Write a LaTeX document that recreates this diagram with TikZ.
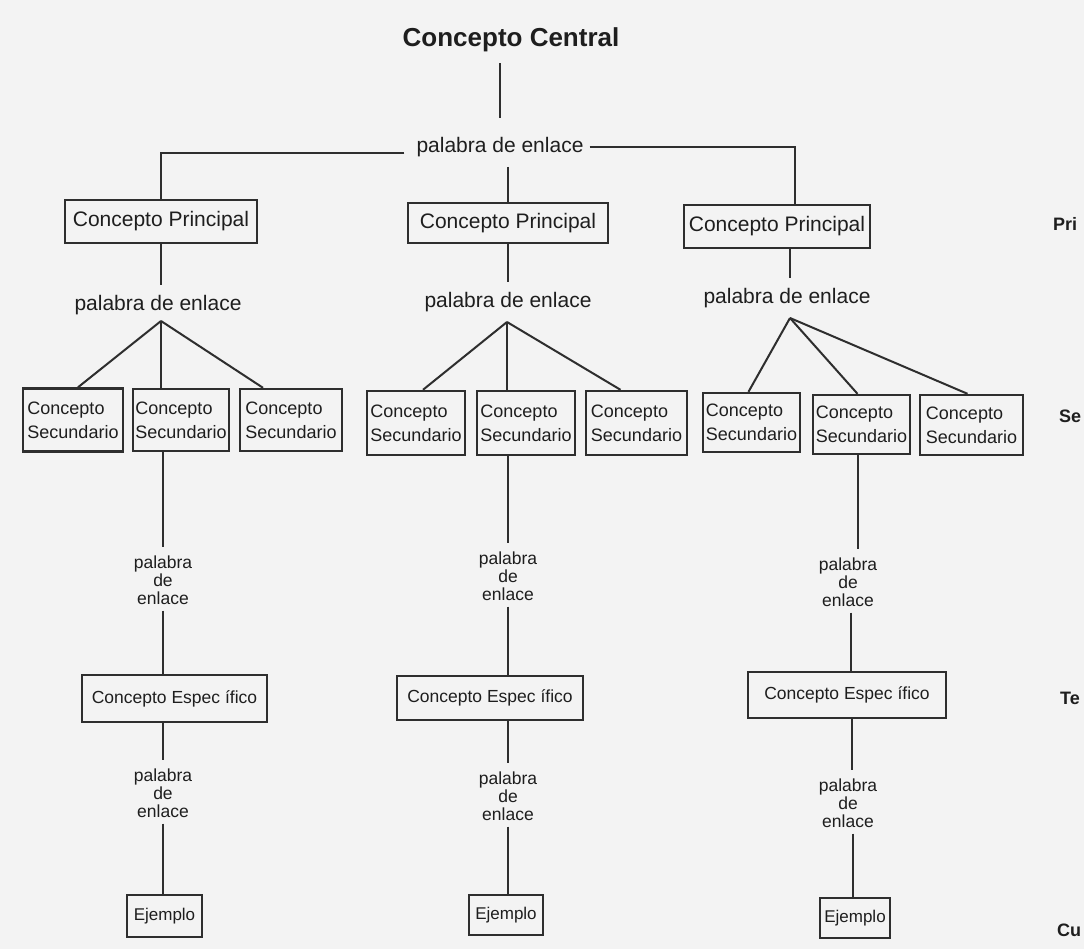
\documentclass[tikz,border=0pt]{standalone}
\usepackage{fontspec}
\setmainfont{Liberation Sans}
\definecolor{lc}{HTML}{2E2E2E}
\definecolor{bg}{HTML}{F3F3F3}
\definecolor{tc}{HTML}{1E1E1E}
\begin{document}
\begin{tikzpicture}[x=1pt,y=-1pt,
  ln/.style={draw=lc, line width=2pt},
  box/.style={draw=lc, line width=2.4pt, inner sep=0pt, text=tc},
  pbox/.style={box, font=\fontsize{21}{25}\selectfont},
  sbox/.style={box, align=left, font=\fontsize{18}{24}\selectfont},
  ebox/.style={box, font=\fontsize{17.5}{21}\selectfont},
  xbox/.style={box, font=\fontsize{17}{21}\selectfont},
  lwa/.style={inner sep=0pt, text=tc, font=\fontsize{21}{25}\selectfont},
  lwb/.style={inner sep=0pt, text=tc, align=center, font=\fontsize{17.5}{18}\selectfont},
  side/.style={inner sep=0pt, anchor=west, text=tc, font=\fontsize{18}{22}\selectfont\bfseries}
]
\fill[bg] (0,0) rectangle (1084,949);
\useasboundingbox (0,0) rectangle (1084,949);
\clip (0,0) rectangle (1084,949);

% top
\node[inner sep=0pt, text=tc, font=\fontsize{26}{30}\selectfont\bfseries] (cc) at (511,40) {Concepto Central};
\node[lwa] (pw0) at (500,147) {palabra de enlace};

% principal
\node[pbox, minimum width=192pt, minimum height=43pt] (P1) at (161,221.5) {Concepto Principal};
\node[pbox, minimum width=200pt, minimum height=40pt] (P2) at (508,223) {Concepto Principal};
\node[pbox, minimum width=186pt, minimum height=43pt] (P3) at (777,226.5) {Concepto Principal};

\draw[ln, shorten <=11pt, shorten >=19pt] (cc.south -| pw0.north) -- (pw0.north);
\draw[ln] ([shift={(-12pt,-6pt)}]pw0.west) -| (P1.north);
\draw[ln] ([xshift=6pt]pw0.east) -| ([xshift=18pt]P3.north);
\draw[ln, shorten <=10pt] (pw0.south -| P2.north) -- (P2.north);

% level 2 link words
\node[lwa] (pwA) at (158,305) {palabra de enlace};
\node[lwa] (pwB) at (508,302) {palabra de enlace};
\node[lwa] (pwC) at (787,298) {palabra de enlace};

\draw[ln, shorten >=10pt] (P1.south) -- (P1.south |- pwA.north);
\draw[ln, shorten >=10pt] (P2.south) -- (P2.south |- pwB.north);
\draw[ln, shorten >=10pt] ([xshift=13pt]P3.south) -- ([xshift=13pt]P3.south |- pwC.north);

\coordinate (aA) at (161,321);
\coordinate (aB) at (507,322);
\coordinate (aC) at (790,318);

% secondary boxes
\node[sbox, minimum width=100pt, minimum height=63pt] (SA1) at (73,420) {Concepto\\Secundario};
\node[sbox, minimum width=96pt, minimum height=62pt] (SA2) at (181,420) {Concepto\\Secundario};
\node[sbox, minimum width=102pt, minimum height=62pt] (SA3) at (291,420) {Concepto\\Secundario};

\node[sbox, minimum width=98pt, minimum height=64pt] (SB1) at (416,423) {Concepto\\Secundario};
\node[sbox, minimum width=98pt, minimum height=64pt] (SB2) at (526,423) {Concepto\\Secundario};
\node[sbox, minimum width=101pt, minimum height=64pt] (SB3) at (636.5,423) {Concepto\\Secundario};

\node[sbox, minimum width=97pt, minimum height=59pt] (SC1) at (751.5,422.5) {Concepto\\Secundario};
\node[sbox, minimum width=97pt, minimum height=59pt] (SC2) at (861.5,424.5) {Concepto\\Secundario};
\node[sbox, minimum width=103pt, minimum height=60pt] (SC3) at (971.5,425) {Concepto\\Secundario};

\draw[ln] (aA) -- ([xshift=5pt]SA1.north);
\draw[ln] (aA) -- (SA2.north -| aA);
\draw[ln] (aA) -- ([xshift=-28pt]SA3.north);
\draw[ln] (aB) -- ([xshift=7pt]SB1.north);
\draw[ln] (aB) -- (SB2.north -| aB);
\draw[ln] (aB) -- ([xshift=-16pt]SB3.north);
\draw[ln] (aC) -- ([xshift=-3pt]SC1.north);
\draw[ln] (aC) -- ([xshift=-4pt]SC2.north);
\draw[ln] (aC) -- ([xshift=-4pt]SC3.north);

% level 3
\node[lwb] (qA1) at (163,580) {palabra\\de\\enlace};
\node[lwb] (qB1) at (508,576) {palabra\\de\\enlace};
\node[lwb] (qC1) at (848,582) {palabra\\de\\enlace};

\node[ebox, minimum width=185pt, minimum height=47pt] (EA) at (174.5,698.5) {Concepto Espec ífico};
\node[ebox, minimum width=186pt, minimum height=44pt] (EB) at (490,698) {Concepto Espec ífico};
\node[ebox, minimum width=198pt, minimum height=46pt] (EC) at (847,695) {Concepto Espec ífico};

\node[lwb] (qA2) at (163,793) {palabra\\de\\enlace};
\node[lwb] (qB2) at (508,796) {palabra\\de\\enlace};
\node[lwb] (qC2) at (848,803) {palabra\\de\\enlace};

\node[xbox, minimum width=75pt, minimum height=42pt] (XA) at (164.5,916) {Ejemplo};
\node[xbox, minimum width=74pt, minimum height=40pt] (XB) at (506,915) {Ejemplo};
\node[xbox, minimum width=70pt, minimum height=40pt] (XC) at (855,918) {Ejemplo};

\draw[ln, shorten >=8pt] (SA2.south -| qA1) -- (qA1.north);
\draw[ln, shorten <=6pt] (qA1.south) -- (EA.north -| qA1);
\draw[ln, shorten >=8pt] (EA.south -| qA2) -- (qA2.north);
\draw[ln, shorten <=6pt] (qA2.south) -- (XA.north -| qA2);

\draw[ln, shorten >=8pt] (SB2.south -| qB1) -- (qB1.north);
\draw[ln, shorten <=6pt] (qB1.south) -- (EB.north -| qB1);
\draw[ln, shorten >=8pt] (EB.south -| qB2) -- (qB2.north);
\draw[ln, shorten <=6pt] (qB2.south) -- (XB.north -| qB2);

\draw[ln, shorten >=8pt] ([xshift=10pt]SC2.south -| qC1) -- ([xshift=10pt]qC1.north);
\draw[ln, shorten <=6pt] ([xshift=3pt]qC1.south) -- ([xshift=3pt]EC.north -| qC1);
\draw[ln, shorten >=8pt] ([xshift=4pt]EC.south -| qC2) -- ([xshift=4pt]qC2.north);
\draw[ln, shorten <=6pt] ([xshift=5pt]qC2.south) -- ([xshift=5pt]XC.north -| qC2);

% side labels (as far as the reference shows them)
\node[side] (L1) at (1053,224) {Pri};
\node[side] (L2) at (1059,416) {Se};
\node[side] (L3) at (1060,698) {Te};
\node[side] (L4) at (1057,930) {Cu};
\end{tikzpicture}
\end{document}
